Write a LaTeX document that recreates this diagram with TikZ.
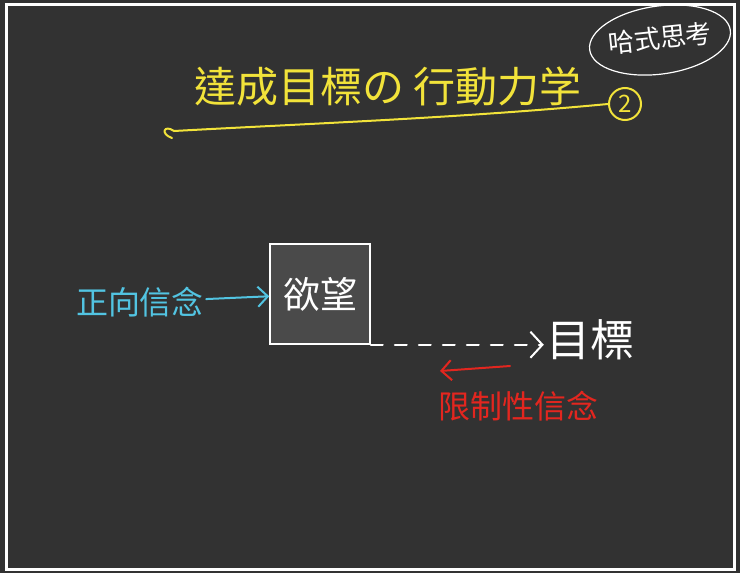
\documentclass[tikz,border=0pt]{standalone}
\usepackage{fontspec}
\newfontfamily\cjk{Noto Sans CJK TC}
\usetikzlibrary{arrows.meta}
\definecolor{board}{HTML}{323232}
\definecolor{boxgray}{HTML}{4A4A4A}
\definecolor{chalkyellow}{HTML}{F2E33A}
\definecolor{chalkblue}{HTML}{52C4E2}
\definecolor{chalkred}{HTML}{E3261F}
\tikzset{
  chalk/.style={line width=2pt, line cap=round},
  barb/.style={-{Straight Barb[length=10pt,width=20pt]}},
  bigbarb/.style={-{Straight Barb[length=12pt,width=26pt]}},
  handtext/.style={font=\cjk, inner sep=2pt},
}

\begin{document}
\begin{tikzpicture}[x=1pt,y=-1pt]
    \fill[board] (0,0) rectangle (740,573);
    \draw[white, line width=3pt] (6,4) rectangle (734,569);
    \node[handtext, text=chalkyellow, font=\cjk\fontsize{42}{48}\selectfont] (title) at (388,86) {達成目標の\ 行動力学};
    \node[handtext, circle, draw=chalkyellow, chalk, text=chalkyellow, minimum size=32pt, font=\cjk\fontsize{24}{26}\selectfont] (part) at (625,104) {2};
    \draw[chalk, chalkyellow] (172,138) .. controls (160,134) and (164,124) .. (174,131)
        .. controls (300,124) and (460,118) .. (part.west);
    \node[handtext, text=white, rotate=6, font=\cjk\fontsize{26}{30}\selectfont] (brand) at (660,38) {哈式思考};
    \draw[white, line width=1.2pt, rotate around={8:(660,40)}] (660,40) ellipse (71pt and 34pt);
    \node[handtext, draw=white, fill=boxgray, line width=1.5pt, minimum size=100pt, text=white, font=\cjk\fontsize{37}{42}\selectfont] (desire) at (320,294) {欲望};
    \node[handtext, text=chalkblue, font=\cjk\fontsize{32}{38}\selectfont] (belief) at (140,302) {正向信念};
    \draw[chalk, chalkblue, barb] (belief) -- (desire);
    \node[handtext, text=white, font=\cjk\fontsize{44}{50}\selectfont] (goal) at (590,340) {目標};
    \draw[chalk, white, bigbarb, dash pattern=on 12pt off 12pt] (desire.south east) -- (desire.south east -| goal.west);
    \coordinate (pull) at (510,366);
    \coordinate (back) at (440,371);
    \draw[chalk, chalkred, barb] (pull) -- (back);
    \node[handtext, text=chalkred, font=\cjk\fontsize{32}{38}\selectfont] (limit) at (518,406) {限制性信念};
\end{tikzpicture}
\end{document}
